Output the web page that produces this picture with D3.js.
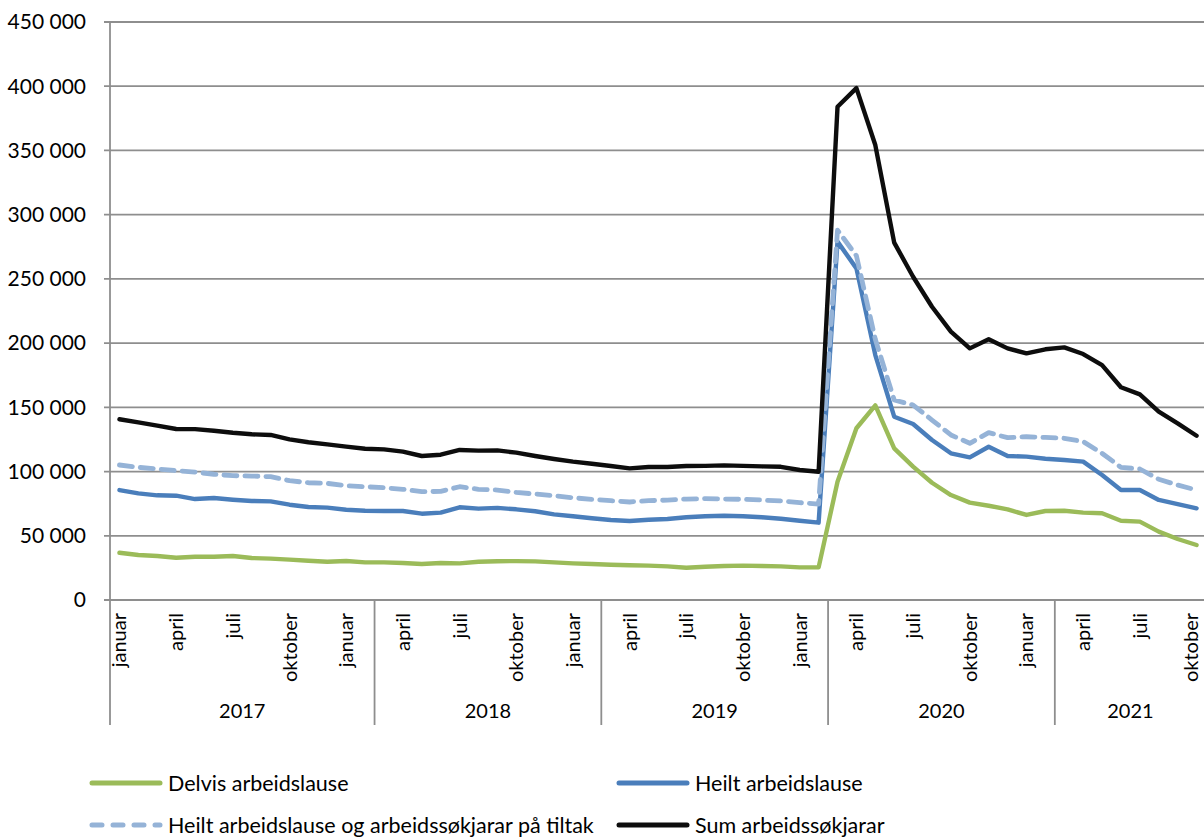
<!DOCTYPE html>
<html><head><meta charset="utf-8">
<script src="https://cdn.jsdelivr.net/npm/d3@7/dist/d3.min.js"></script>
<style>
body{margin:0;background:#fff}
text{font-family:Lato,"Open Sans",sans-serif;fill:#000}
</style>
</head><body>
<svg id="chart" width="1204" height="839"></svg>
<script>
// ---- data ----
const monthNames = ["januar","februar","mars","april","mai","juni","juli","august","september","oktober","november","desember"];
const startYear = 2017, nMonths = 58; // januar 2017 .. oktober 2021
const yearLabels = ["2017","2018","2019","2020","2021"];
const yearSpans  = [14, 12, 12, 12, 8];
const yTicks = [0,50000,100000,150000,200000,250000,300000,350000,400000,450000];

const seriesNames = ["Delvis arbeidslause","Heilt arbeidslause","Heilt arbeidslause og arbeidssøkjarar på tiltak","Sum arbeidssøkjarar"];

const delvis = [36800,35000,34300,32900,33700,33700,34300,32700,32200,31400,30600,29800,30400,29300,29300,28800,28000,28800,28500,29800,
  30200,30300,30100,29300,28500,28000,27500,27000,26800,26200,25100,25900,26500,26800,26500,26200,25400,25400,
  92100,133700,151500,118100,103800,91300,81700,75800,73400,70600,66200,69300,69500,68000,67500,61700,61000,53200,47500,42800];
const heilt = [85600,83000,81500,81200,78600,79400,78100,77100,76800,74200,72400,71900,70300,69500,69300,69300,67200,68000,72200,71100,
  71700,70600,69100,66700,65200,63600,62300,61500,62500,63100,64400,65200,65600,65200,64400,63300,61700,60200,
  279000,258200,190700,142700,137000,124600,114200,111100,119300,112100,111600,110000,109000,107700,97300,85600,85600,77900,74700,71400];
const heiltTiltak = [105100,103300,102000,100700,99600,97900,96800,96500,96000,92900,91300,90800,89000,88200,87400,86200,84300,84600,88200,86200,
  85600,83800,82500,81200,79600,78400,77300,76300,77300,77800,78600,78900,78600,78400,77800,77100,75800,74700,
  288000,268000,203000,155700,151800,140100,128500,122000,130300,126400,127100,126600,125900,123300,114200,103300,102000,94000,89500,85600];
const sum = [140700,138300,135700,133100,133000,131800,130200,129000,128500,125100,122800,121200,119400,117800,117300,115500,112100,113100,116800,116300,
  116500,114700,112100,109800,107700,106100,104300,102500,103500,103500,104300,104400,104800,104400,104000,103700,101200,99900,
  384000,398500,354200,278200,251700,228300,208900,195900,203000,195900,192000,195200,196700,191500,182900,165600,160100,146600,137500,127900];

const colors = ["#9bbb59","#4a7ebb","#95b3d7","#0d0d0d"];

// ---- layout ----
const svg = d3.select("#chart");
const L = 110, R = 1206, T = 22, B = 600;
const categories = d3.range(nMonths).map(i => (startYear + Math.floor(i/12)) + "-" + monthNames[i%12]);
const x = d3.scaleBand().domain(categories).range([L, R]).padding(0);
const y = d3.scaleLinear().domain([0, 450000]).range([B, T]);
const cx = c => x(c) + x.bandwidth()/2;

const loc = d3.formatLocale({decimal:",", thousands:" ", grouping:[3], currency:["",""]});
const fmt = loc.format(",d");

// gridlines
svg.append("g").selectAll("line").data(yTicks).join("line")
  .attr("x1", L - 6).attr("x2", 1204)
  .attr("y1", d => y(d)).attr("y2", d => y(d))
  .attr("stroke", "#8e8e8e").attr("stroke-width", 1.8);

// y axis line
svg.append("line").attr("x1", L).attr("x2", L).attr("y1", T).attr("y2", 725)
  .attr("stroke", "#8e8e8e").attr("stroke-width", 1.8);

// y labels
svg.append("g").selectAll("text").data(yTicks).join("text")
  .attr("x", 86).attr("y", d => y(d)).attr("dy", "0.35em")
  .attr("text-anchor", "end").style("font-size", "21px")
  .text(d => fmt(d));

// year separators
let acc = 0;
const yearBounds = yearSpans.map((s, i) => { const a = acc; acc += s; return {label: yearLabels[i], start: a, end: acc}; });
svg.append("g").selectAll("line").data(yearBounds.slice(1)).join("line")
  .attr("x1", d => x(categories[d.start])).attr("x2", d => x(categories[d.start]))
  .attr("y1", B).attr("y2", 725)
  .attr("stroke", "#8e8e8e").attr("stroke-width", 1.8);

// year labels
svg.append("g").selectAll("text").data(yearBounds).join("text")
  .attr("x", d => (x(categories[d.start]) + (d.end < nMonths ? x(categories[d.end]) : R)) / 2)
  .attr("y", 711).attr("dy", "0.35em").attr("text-anchor", "middle")
  .style("font-size", "20px")
  .text(d => d.label);

// month labels (every 3rd month)
const monthTicks = categories.filter((c, i) => i % 3 === 0);
svg.append("g").selectAll("text").data(monthTicks).join("text")
  .attr("transform", c => `translate(${Math.min(cx(c) + 7, 1198)},613) rotate(-90)`)
  .attr("text-anchor", "end").style("font-size", "20px")
  .text(c => c.split("-")[1]);

// lines
const line = d3.line().x((d, i) => cx(categories[i])).y(d => y(d));
const allSeries = [delvis, heilt, heiltTiltak, sum];
const dashes = [null, null, "13,8", null];
allSeries.forEach((s, k) => {
  svg.append("path").datum(s).attr("d", line)
    .attr("fill", "none").attr("stroke", colors[k])
    .attr("stroke-width", k === 2 ? 4.8 : 4.4)
    .attr("stroke-linejoin", "round")
    .attr("stroke-linecap", "round")
    .attr("stroke-dasharray", dashes[k]);
});

// legend
const legendPos = [[90, 783], [617, 783], [90, 825], [617, 825]];
seriesNames.forEach((n, k) => {
  const [lx, ly] = legendPos[k];
  svg.append("line").attr("x1", lx + 2).attr("x2", lx + 70).attr("y1", ly).attr("y2", ly)
    .attr("stroke", colors[k]).attr("stroke-width", 5)
    .attr("stroke-linecap", "round")
    .attr("stroke-dasharray", k === 2 ? "10,11" : null);
  svg.append("text").attr("x", lx + 78).attr("y", ly).attr("dy", "0.35em")
    .style("font-size", "21.5px").text(n);
});
</script>
</body></html>
